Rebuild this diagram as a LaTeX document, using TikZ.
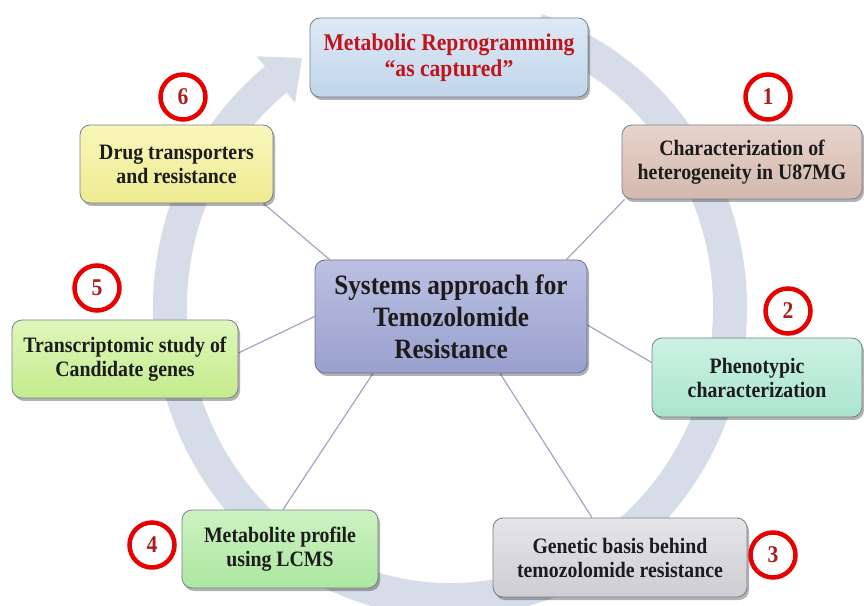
\documentclass[tikz,border=0pt]{standalone}
\usepackage{fontspec}
\setmainfont{Liberation Serif}[FakeStretch=0.9]
\usetikzlibrary{shadows,calc,backgrounds}
\definecolor{ringc}{RGB}{215,221,232}
\definecolor{boxedge}{RGB}{120,128,140}
\definecolor{txt}{RGB}{28,28,28}
\definecolor{redtxt}{RGB}{192,20,27}
\definecolor{numred}{RGB}{230,0,0}
\definecolor{numtxt}{RGB}{170,30,30}
\definecolor{linkc}{RGB}{160,166,196}
\begin{document}
\begin{tikzpicture}[x=1pt,y=1pt,
  box/.style={rounded corners=10pt, draw=boxedge, line width=0.8pt, align=center,
    font=\bfseries\fontsize{22}{24}\selectfont, text=txt, inner sep=2pt,
    drop shadow={shadow xshift=2pt, shadow yshift=-3pt, opacity=0.3, fill=black}},
  num/.style={circle, draw=numred, line width=4.5pt, fill=white, minimum size=45pt,
    inner sep=0pt, font=\bfseries\fontsize{24}{24}\selectfont, text=numtxt},
  link/.style={draw=linkc, line width=1.2pt}]
\useasboundingbox (0,0) rectangle (864,605);

% boxes
\node[box, top color={rgb,255:red,222;green,234;blue,246}, bottom color={rgb,255:red,192;green,213;blue,235},
  minimum width=278pt, minimum height=79pt, font=\bfseries\fontsize{24}{26.5}\selectfont, text=redtxt]
  (top) at (449,547.5) {Metabolic Reprogramming\\“as captured”};
\node[box, top color={rgb,255:red,231;green,212;blue,204}, bottom color={rgb,255:red,212;green,184;blue,173},
  minimum width=240pt, minimum height=74pt] (b1) at (742,443) {Characterization of\\heterogeneity in U87MG};
\node[box, top color={rgb,255:red,204;green,242;blue,228}, bottom color={rgb,255:red,170;green,228;blue,206},
  minimum width=210pt, minimum height=79pt] (b2) at (757,227.5) {Phenotypic\\characterization};
\node[box, top color={rgb,255:red,230;green,230;blue,233}, bottom color={rgb,255:red,205;green,205;blue,210},
  minimum width=254pt, minimum height=79pt] (b3) at (620,47.5) {Genetic basis behind\\temozolomide resistance};
\node[box, top color={rgb,255:red,204;green,243;blue,194}, bottom color={rgb,255:red,172;green,231;blue,160},
  minimum width=196pt, minimum height=78pt] (b4) at (280,56) {Metabolite profile\\using LCMS};
\node[box, top color={rgb,255:red,224;green,246;blue,186}, bottom color={rgb,255:red,196;green,236;blue,142},
  minimum width=226pt, minimum height=78pt] (b5) at (125,246) {Transcriptomic study of\\Candidate genes};
\node[box, top color={rgb,255:red,249;green,247;blue,186}, bottom color={rgb,255:red,238;green,235;blue,146},
  minimum width=193pt, minimum height=78pt] (b6) at (176.5,441) {Drug transporters\\and resistance};
\node[box, top color={rgb,255:red,188;green,192;blue,226}, bottom color={rgb,255:red,154;green,160;blue,206},
  draw={rgb,255:red,105;green,110;blue,150}, minimum width=272pt, minimum height=113pt,
  font=\bfseries\fontsize{28}{32}\selectfont] (c) at (451,288.5)
  {Systems approach for\\Temozolomide\\Resistance};

% numbers
\node[num] (n1) at (768,508) {1};
\node[num] (n2) at (788,294) {2};
\node[num] (n3) at (773,50) {3};
\node[num] (n4) at (152,60) {4};
\node[num] (n5) at (97,317) {5};
\node[num] (n6) at (183,508) {6};

\begin{scope}[on background layer]
  % circular arrow
  \draw[ringc, line width=34pt] (450,297) ++(72:280 and 292)
    arc[start angle=72, end angle=-231.5, x radius=280, y radius=292];
  \fill[ringc] (256.5,548.7) -- (302,547) -- (295,502.3) -- cycle;
  % connectors
  \draw[link] ($(b6.south east)+(-10,0)$) -- ($(c.north west)+(15,0)$);
  \draw[link] ($(b1.south west)+(3,0)$) -- ($(c.north east)+(-21,0)$);
  \draw[link] ($(b2.west)+(0,15)$) -- ($(c.east)+(0,-8.5)$);
  \draw[link] ($(b5.east)+(0,6)$) -- (c.west);
  \draw[link] ($(b4.north)+(3,0)$) -- ($(c.south)+(-78,0)$);
  \draw[link] ($(b3.north)+(-28,0)$) -- ($(c.south)+(49,0)$);
\end{scope}
\end{tikzpicture}
\end{document}
